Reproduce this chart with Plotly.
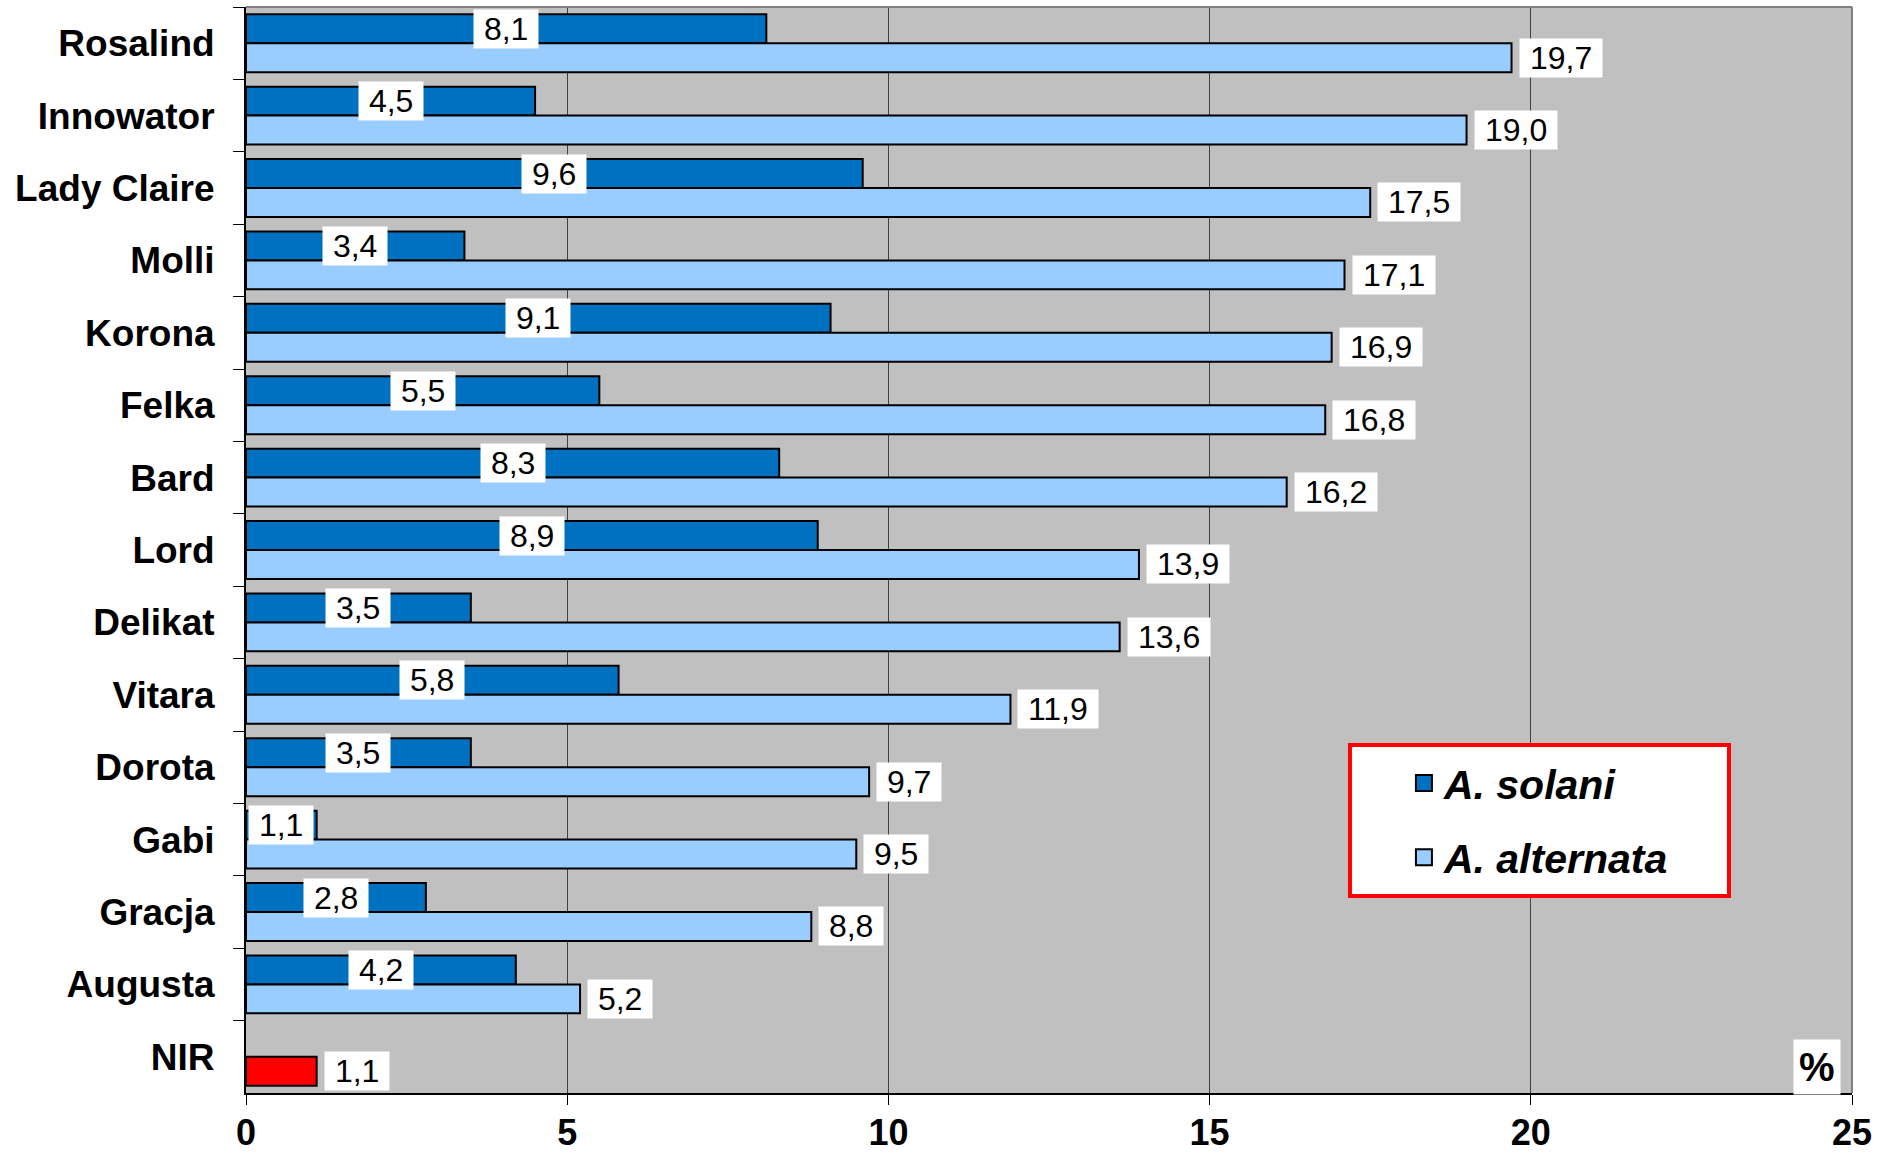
import plotly.graph_objects as go

categories = ["Rosalind", "Innowator", "Lady Claire", "Molli", "Korona", "Felka", "Bard",
              "Lord", "Delikat", "Vitara", "Dorota", "Gabi", "Gracja", "Augusta", "NIR"]
solani = [8.1, 4.5, 9.6, 3.4, 9.1, 5.5, 8.3, 8.9, 3.5, 5.8, 3.5, 1.1, 2.8, 4.2, None]
alternata = [19.7, 19.0, 17.5, 17.1, 16.9, 16.8, 16.2, 13.9, 13.6, 11.9, 9.7, 9.5, 8.8, 5.2, None]
nir_value = 1.1
x_ticks = [0, 5, 10, 15, 20, 25]

DARK = "#0070C0"
LIGHT = "#99CCFF"
RED = "#FF0000"
FONT = "Arial, Liberation Sans, sans-serif"
NB = "\u00a0"


def fmt(v):
    return NB + f"{v:.1f}".replace(".", ",") + NB


fig = go.Figure()
fig.add_trace(go.Bar(y=categories, x=solani, orientation="h", name="A. solani",
                     marker=dict(color=DARK, line=dict(color="black", width=2)),
                     offsetgroup="1", showlegend=False))
fig.add_trace(go.Bar(y=categories, x=alternata, orientation="h", name="A. alternata",
                     marker=dict(color=LIGHT, line=dict(color="black", width=2)),
                     offsetgroup="2", showlegend=False))
fig.add_trace(go.Bar(y=["NIR"], x=[nir_value], orientation="h", name="NIR",
                     marker=dict(color=RED, line=dict(color="black", width=2)),
                     offsetgroup="2", showlegend=False))

# legend entries
for nm, col, grp in [("<b><i>A. solani</i></b>", DARK, "a"), ("<b><i>A. alternata</i></b>", LIGHT, "b")]:
    fig.add_trace(go.Scatter(x=[None], y=[None], mode="markers", name=nm, legendgroup=grp,
                             marker=dict(symbol="square", size=16, color=col,
                                         line=dict(color="black", width=2))))

LBL = dict(family=FONT, size=32, color="black")
annotations = []
for i, v in enumerate(solani):
    if v is None:
        continue
    annotations.append(dict(x=v / 2, y=i - 0.2, xref="x", yref="y", text=fmt(v),
                            showarrow=False, xanchor="center", yanchor="middle",
                            bgcolor="white", borderpad=1, font=LBL))
for i, v in enumerate(alternata):
    if v is None:
        continue
    annotations.append(dict(x=v, y=i + 0.2, xref="x", yref="y", text=fmt(v),
                            showarrow=False, xanchor="left", yanchor="middle", xshift=7,
                            bgcolor="white", borderpad=1, font=LBL))
annotations.append(dict(x=nir_value, y=len(categories) - 1 + 0.2, xref="x", yref="y",
                        text=fmt(nir_value), showarrow=False,
                        xanchor="left", yanchor="middle", xshift=7, bgcolor="white", borderpad=1,
                        font=LBL))
annotations.append(dict(x=1, y=0, xref="paper", yref="paper", text="<b>%</b>", showarrow=False,
                        xanchor="right", yanchor="bottom", xshift=-11, yshift=-2,
                        bgcolor="white", borderpad=5, font=dict(family=FONT, size=40, color="black")))

shapes = [
    dict(type="line", xref="paper", yref="paper", x0=0, x1=1, y0=1, y1=1, line=dict(color="#808080", width=2)),
    dict(type="line", xref="paper", yref="paper", x0=1, x1=1, y0=0, y1=1, line=dict(color="#808080", width=2)),
    dict(type="rect", xref="paper", yref="paper", x0=0.6874, x1=0.9234, y0=0.1814, y1=0.3204,
         fillcolor="white", line=dict(color=RED, width=4), layer="above"),
]

fig.update_layout(
    width=1877, height=1155,
    margin=dict(l=246, r=25, t=7, b=62, pad=0, autoexpand=False),
    paper_bgcolor="white", plot_bgcolor="#C0C0C0",
    barmode="group", bargap=0.2, bargroupgap=0,
    font=dict(family=FONT, color="black"),
    annotations=annotations, shapes=shapes,
    legend=dict(x=0.721, y=0.316, xanchor="left", yanchor="top", bgcolor="rgba(0,0,0,0)",
                borderwidth=0, font=dict(family=FONT, size=41, color="black"),
                traceorder="grouped", tracegroupgap=18),
    xaxis=dict(range=[0, 25], tickvals=x_ticks, ticktext=[str(t) for t in x_ticks],
               showgrid=True, gridcolor="#404040", gridwidth=1, zeroline=False,
               showline=True, linecolor="black", linewidth=2, automargin=False,
               ticks="outside", ticklen=10, tickcolor="black", tickwidth=1,
               tickfont=dict(family=FONT, size=36, color="black", weight="bold"),
               ticklabelstandoff=-3, fixedrange=True),
    yaxis=dict(type="category", categoryorder="array", categoryarray=categories,
               autorange="reversed", showgrid=False, zeroline=False,
               showline=True, linecolor="black", linewidth=2, automargin=False,
               ticks="outside", ticklen=11, tickcolor="black", tickwidth=1, tickson="boundaries",
               tickfont=dict(family=FONT, size=37, color="black", weight="bold"),
               ticklabelstandoff=22, fixedrange=True),
)

fig.write_html("out.html")
